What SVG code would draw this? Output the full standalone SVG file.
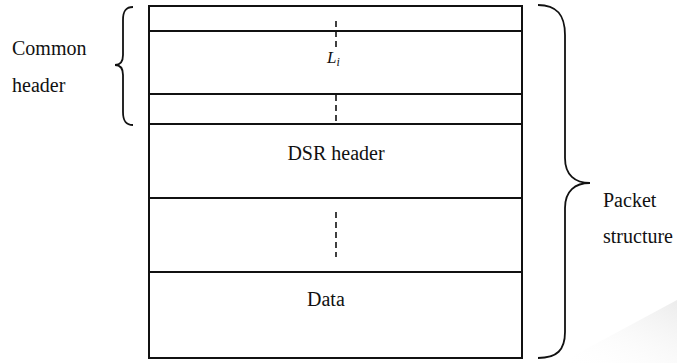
<svg xmlns="http://www.w3.org/2000/svg" width="677" height="363" viewBox="0 0 677 363">
<defs>
<linearGradient id="sh" x1="0" y1="1" x2="1" y2="0">
<stop offset="0" stop-color="#ffffff" stop-opacity="0"/>
<stop offset="1" stop-color="#ececec"/>
</linearGradient>
</defs>
<style>
text{font-family:'Liberation Serif','Times New Roman',serif;font-size:20px;fill:#111}
.ln{stroke:#111;stroke-width:2;fill:none}
.ds{stroke:#111;stroke-width:1.6;stroke-dasharray:6,4;fill:none}
.br{stroke:#111;stroke-width:1.8;fill:none}
</style>
<path d="M560,363 L677,300 L677,363 Z" fill="url(#sh)"/>
<g id="packet">
<rect x="149" y="6" width="373" height="352" class="ln"/>
<line x1="149" y1="31" x2="522" y2="31" class="ln"/>
<line x1="149" y1="94" x2="522" y2="94" class="ln"/>
<line x1="149" y1="124" x2="522" y2="124" class="ln"/>
<line x1="149" y1="198" x2="522" y2="198" class="ln"/>
<line x1="149" y1="272" x2="522" y2="272" class="ln"/>
</g>
<g id="dashes">
<line x1="336" y1="21" x2="336" y2="49" class="ds"/>
<line x1="336" y1="95" x2="336" y2="124" class="ds"/>
<line x1="336" y1="212" x2="336" y2="257" class="ds"/>
</g>
<g id="labels">
<text x="327" y="63" font-style="italic" style="font-size:17px">L<tspan dy="3" style="font-size:12px">i</tspan></text>
<text x="336" y="160" text-anchor="middle">DSR header</text>
<text x="307" y="306">Data</text>
</g>
<g id="common-header">
<path class="br" d="M133,7 C125,7 123,12 123,20 L123,55 C123,62 120,65 115,65 C120,65 123,68 123,75 L123,112 C123,120 125,125 133,125"/>
<text x="12" y="55">Common</text>
<text x="12" y="92">header</text>
</g>
<g id="packet-structure">
<path class="br" d="M538,5 C557,5 565,15 565,35 L565,158 C565,175 575,183 590,183 C575,183 565,191 565,208 L565,332 C565,350 557,358 538,358"/>
<text x="603" y="207">Packet</text>
<text x="603" y="243">structure</text>
</g>
</svg>
